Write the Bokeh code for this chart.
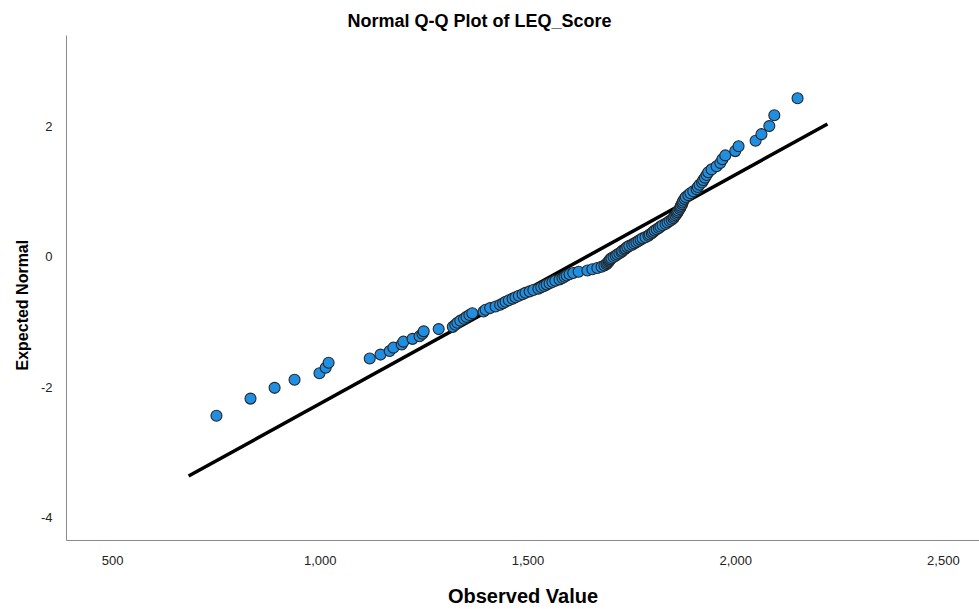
from bokeh.plotting import figure
from bokeh.models import Range1d, FixedTicker, NumeralTickFormatter, PrintfTickFormatter, Title, ColumnDataSource
from bokeh.embed import file_html
from bokeh.resources import INLINE

# Observed values (LEQ_Score) in rank order
observed = [
    750, 832, 890, 938, 998, 1013, 1020, 1119, 1145, 1167,
    1176, 1196, 1200, 1222, 1239, 1246, 1249, 1285, 1319, 1325,
    1330, 1337, 1346, 1352, 1359, 1366, 1393, 1398, 1409, 1422,
    1433, 1440, 1446, 1454, 1463, 1470, 1478, 1487, 1494, 1504,
    1513, 1525, 1532, 1539, 1545, 1552, 1559, 1566, 1576, 1583,
    1588, 1593, 1600, 1609, 1622, 1643, 1655, 1667, 1677, 1684,
    1689, 1691, 1694, 1696, 1698, 1701, 1706, 1711, 1715, 1720,
    1725, 1727, 1732, 1735, 1739, 1744, 1751, 1756, 1761, 1766,
    1771, 1776, 1783, 1790, 1793, 1798, 1801, 1805, 1810, 1815,
    1819, 1824, 1831, 1836, 1841, 1846, 1850, 1852, 1855, 1858,
    1860, 1862, 1865, 1867, 1868, 1871, 1872, 1874, 1877, 1880,
    1886, 1891, 1898, 1906, 1909, 1913, 1919, 1922, 1926, 1930,
    1934, 1942, 1954, 1963, 1968, 1975, 1999, 2007, 2048, 2062,
    2081, 2093, 2149,
]

# Expected normal values
expected = [
    -2.434, -2.172, -2.007, -1.883, -1.783, -1.698, -1.623, -1.557, -1.497, -1.442,
    -1.391, -1.343, -1.299, -1.256, -1.216, -1.178, -1.141, -1.106, -1.072, -1.040,
    -1.008, -0.977, -0.948, -0.919, -0.891, -0.863, -0.836, -0.810, -0.784, -0.759,
    -0.734, -0.710, -0.686, -0.663, -0.639, -0.617, -0.594, -0.572, -0.550, -0.528,
    -0.507, -0.486, -0.465, -0.445, -0.424, -0.404, -0.383, -0.363, -0.344, -0.324,
    -0.304, -0.285, -0.266, -0.246, -0.227, -0.208, -0.189, -0.170, -0.151, -0.131,
    -0.113, -0.094, -0.075, -0.056, -0.037, -0.019, 0.000, 0.019, 0.037, 0.056,
    0.075, 0.094, 0.113, 0.131, 0.151, 0.170, 0.189, 0.208, 0.227, 0.246,
    0.266, 0.285, 0.304, 0.324, 0.344, 0.363, 0.383, 0.404, 0.424, 0.445,
    0.465, 0.486, 0.507, 0.528, 0.550, 0.572, 0.594, 0.617, 0.639, 0.663,
    0.686, 0.710, 0.734, 0.759, 0.784, 0.810, 0.836, 0.863, 0.891, 0.919,
    0.948, 0.977, 1.008, 1.040, 1.072, 1.106, 1.141, 1.178, 1.216, 1.256,
    1.299, 1.343, 1.391, 1.442, 1.497, 1.557, 1.623, 1.698, 1.783, 1.883,
    2.007, 2.172, 2.434,
]

# Reference line end points
line_x = [683, 2221]
line_y = [-3.36, 2.04]

x_ticks = [500, 1000, 1500, 2000, 2500]
y_ticks = [-4, -2, 0, 2]

FONT = "Liberation Sans"

p = figure(width=979, height=609, output_backend="svg", toolbar_location=None,
           x_range=Range1d(389, 2587), y_range=Range1d(-4.348, 3.396),
           min_border_left=66, min_border_right=0, min_border_top=35, min_border_bottom=66)

p.title.text = "Normal Q-Q Plot of LEQ_Score"
p.title.align = "left"
p.title.offset = 281
p.title.text_font = FONT
p.title.text_font_size = "18px"
p.title.text_font_style = "bold"
p.title.text_color = "#000000"

p.grid.visible = False
p.outline_line_color = None
p.background_fill_color = "white"
p.border_fill_color = "white"

for ax in (p.xaxis[0], p.yaxis[0]):
    ax.axis_line_color = "#8a8a8a"
    ax.axis_line_width = 1
    ax.major_tick_line_color = None
    ax.minor_tick_line_color = None
    ax.major_label_text_font = FONT
    ax.major_label_text_font_size = "13px"
    ax.major_label_text_color = "#222222"

p.xaxis.ticker = FixedTicker(ticks=x_ticks)
p.yaxis.ticker = FixedTicker(ticks=y_ticks)
p.xaxis.formatter = NumeralTickFormatter(format="0,0")
p.yaxis.formatter = PrintfTickFormatter(format="%d")
p.xaxis.major_label_standoff = 9
p.yaxis.major_label_standoff = 8

p.xaxis.axis_label = "Observed Value"
p.xaxis.axis_label_text_font = FONT
p.xaxis.axis_label_text_font_size = "20px"
p.xaxis.axis_label_text_font_style = "bold"
p.xaxis.axis_label_text_color = "#000000"
p.xaxis.axis_label_standoff = 17

p.add_layout(Title(text="Expected Normal", align="left", offset=170,
                   text_font=FONT, text_font_size="16px", text_font_style="bold",
                   text_color="#000000", standoff=14), "left")

p.line(line_x, line_y, line_color="black", line_width=3.5)

src = ColumnDataSource(data=dict(x=observed, y=expected))
p.scatter("x", "y", source=src, size=11, fill_color="#1F8FE3",
          line_color="#262626", line_width=1.1)

open("out.html", "w").write(file_html(p, INLINE))
